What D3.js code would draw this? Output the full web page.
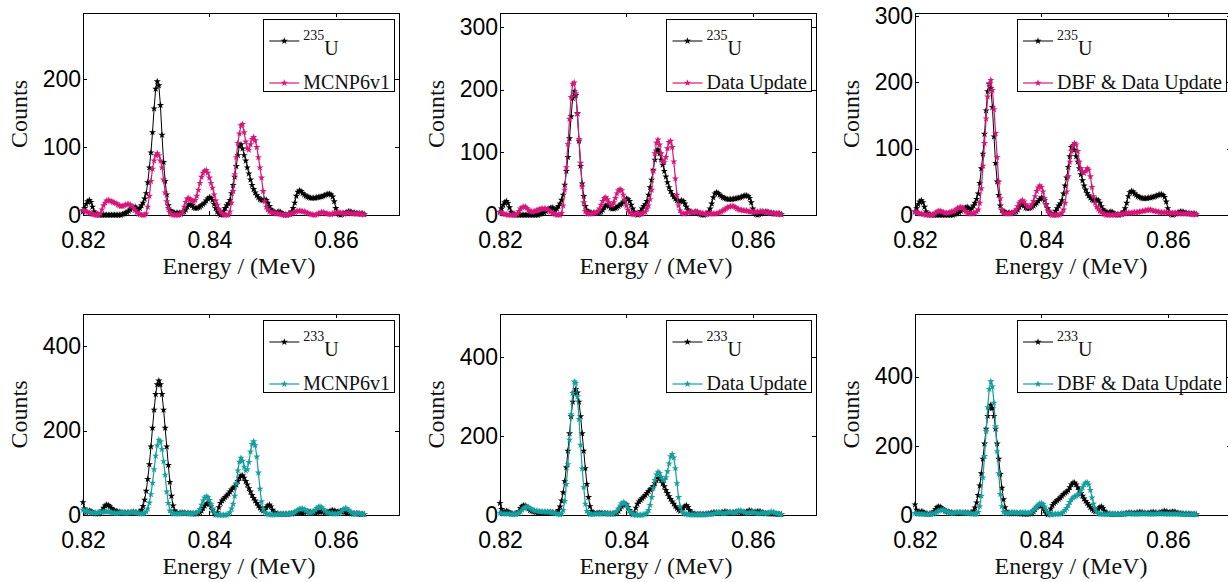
<!DOCTYPE html>
<html>
<head>
<meta charset="utf-8">
<script src="https://cdn.jsdelivr.net/npm/d3@7"></script>
<style>
  body { margin: 0; background: #fff; }
  svg { display: block; }
</style>
</head>
<body>
<svg id="chart"></svg>
<script>
// energy grid of every spectrum: starts at 0.82 MeV, one channel = 0.25 keV
const energyStart = 0.82;
const energyStep = 0.00025;

// 235U measured spectrum (counts), 179 channels
const u235 = [
  5, 10, 16, 20, 22, 19, 12, 5, 2, 1, 0, 0, 0, 0, 0, 0, 0, 0, 0, 0,
  0, 0, 0, 0, 0, 1, 2, 3, 4, 6, 8, 10, 11, 12, 10, 8, 10, 14, 18, 24,
  32, 48, 70, 92, 122, 157, 186, 197, 191, 162, 118, 78, 50, 30, 14, 7, 5, 4, 3, 3,
  3, 3, 3, 4, 5, 8, 12, 15, 16, 14, 11, 10, 10, 11, 12, 14, 16, 18, 21, 24,
  26, 25, 22, 16, 10, 5, 2, 0, 1, 6, 10, 14, 17, 22, 32, 44, 56, 72, 88, 102,
  104, 98, 88, 80, 70, 61, 52, 44, 38, 33, 29, 26, 23, 22, 22, 23, 22, 18, 13, 8,
  6, 4, 3, 4, 5, 4, 2, 1, 0, 0, 1, 2, 5, 10, 18, 28, 34, 36, 35, 32,
  30, 28, 27, 26, 25, 25, 25, 25, 26, 26, 27, 27, 28, 29, 30, 31, 31, 30, 27, 20,
  10, 4, 1, 0, 1, 2, 3, 4, 5, 5, 4, 3, 3, 2, 2, 2, 2, 2, 1
];

// 235U simulated with MCNP6v1
const u235Mcnp = [
  7, 6, 5, 4, 3, 2, 1, 1, 0, 0, 0, 2, 8, 14, 18, 21, 22, 21, 20, 19,
  18, 17, 15, 14, 13, 13, 14, 15, 16, 16, 15, 13, 10, 7, 4, 2, 1, 0, 0, 0,
  2, 12, 28, 50, 68, 80, 88, 91, 88, 80, 70, 52, 33, 20, 10, 4, 1, 0, 0, 0,
  0, 0, 1, 5, 12, 19, 24, 25, 23, 21, 20, 22, 28, 37, 47, 56, 62, 65, 66, 62,
  55, 47, 40, 30, 21, 15, 9, 5, 2, 0, 0, 0, 0, 5, 18, 35, 60, 85, 106, 120,
  132, 134, 122, 108, 98, 96, 104, 112, 115, 110, 100, 85, 70, 55, 35, 20, 12, 8, 5, 4,
  3, 3, 2, 2, 2, 1, 1, 0, 0, 0, 1, 1, 2, 3, 4, 5, 6, 6, 6, 5,
  5, 4, 3, 2, 1, 1, 0, 0, 1, 2, 3, 4, 4, 3, 2, 2, 1, 1, 2, 2,
  3, 4, 4, 3, 3, 2, 2, 3, 3, 3, 2, 2, 2, 2, 2, 2, 1, 1, 1
];

// 235U simulated with the data update
const u235Update = [
  4, 3, 2, 1, 1, 0, 0, 0, 0, 0, 0, 2, 6, 10, 12, 13, 13, 11, 8, 6,
  5, 5, 6, 7, 8, 9, 10, 10, 10, 10, 9, 7, 5, 3, 2, 1, 0, 0, 0, 3,
  15, 40, 76, 113, 153, 188, 209, 211, 194, 161, 121, 83, 45, 20, 6, 2, 2, 2, 2, 3,
  3, 4, 6, 10, 16, 22, 27, 28, 25, 20, 16, 16, 20, 27, 34, 39, 41, 39, 32, 24,
  15, 8, 4, 2, 1, 1, 2, 3, 2, 1, 2, 4, 5, 10, 15, 25, 40, 70, 98, 115,
  120, 112, 98, 86, 84, 92, 106, 116, 118, 108, 85, 58, 32, 15, 7, 3, 2, 2, 3, 4,
  5, 5, 4, 4, 5, 5, 4, 3, 3, 2, 2, 2, 2, 2, 2, 2, 2, 2, 3, 4,
  5, 7, 8, 10, 12, 13, 14, 14, 14, 12, 10, 9, 8, 8, 7, 7, 7, 6, 5, 5,
  5, 5, 5, 5, 5, 6, 6, 5, 4, 4, 4, 3, 3, 3, 2, 2, 2, 1, 1
];

// 235U simulated with DBF & data update
const u235Dbf = [
  5, 4, 3, 2, 2, 1, 1, 0, 0, 0, 0, 0, 1, 3, 5, 6, 6, 5, 4, 3,
  3, 3, 4, 5, 5, 6, 8, 10, 11, 12, 11, 8, 5, 3, 2, 2, 2, 2, 3, 5,
  8, 18, 40, 74, 108, 145, 178, 198, 203, 188, 159, 123, 87, 50, 25, 8, 3, 2, 2, 2,
  2, 2, 3, 5, 8, 13, 18, 21, 22, 20, 16, 13, 12, 13, 16, 21, 28, 36, 41, 44,
  42, 35, 25, 15, 7, 3, 1, 0, 0, 0, 0, 0, 1, 3, 8, 18, 35, 58, 80, 96,
  104, 108, 106, 96, 80, 70, 65, 63, 66, 70, 68, 58, 42, 28, 18, 12, 9, 6, 4, 2,
  1, 0, 0, 0, 0, 0, 0, 1, 1, 1, 1, 1, 2, 2, 3, 3, 3, 3, 4, 4,
  4, 4, 5, 5, 6, 6, 7, 7, 8, 8, 7, 6, 6, 5, 5, 4, 4, 4, 4, 4,
  3, 3, 3, 3, 3, 3, 3, 2, 2, 2, 2, 2, 2, 2, 2, 1, 1, 1, 1
];

// 233U measured spectrum
const u233 = [
  30, 15, 6, 8, 10, 9, 6, 4, 3, 3, 3, 5, 10, 17, 22, 24, 23, 20, 16, 12,
  10, 9, 8, 7, 6, 5, 5, 5, 5, 5, 5, 6, 7, 6, 5, 5, 7, 12, 21, 36,
  57, 85, 120, 162, 206, 249, 286, 309, 318, 309, 286, 249, 206, 162, 118, 78, 45, 22, 10, 6,
  4, 4, 5, 5, 5, 4, 4, 4, 4, 3, 3, 3, 3, 4, 6, 10, 16, 22, 26, 28,
  26, 20, 12, 5, 1, 6, 18, 28, 34, 38, 42, 46, 50, 55, 60, 64, 67, 72, 80, 88,
  93, 93, 88, 80, 72, 63, 55, 47, 40, 34, 28, 22, 17, 13, 10, 12, 18, 22, 24, 20,
  12, 6, 4, 3, 2, 2, 2, 2, 2, 2, 2, 3, 3, 4, 5, 6, 6, 6, 5, 5,
  6, 7, 8, 8, 7, 6, 5, 5, 6, 7, 8, 8, 7, 6, 6, 7, 8, 10, 11, 10,
  8, 7, 8, 9, 9, 8, 6, 5, 4, 4, 3, 3, 3, 3, 3, 2, 2, 2, 2
];

// 233U simulated with MCNP6v1
const u233Mcnp = [
  12, 10, 9, 8, 7, 6, 5, 5, 5, 5, 6, 6, 7, 7, 8, 8, 8, 7, 6, 5,
  5, 4, 4, 5, 6, 6, 5, 4, 4, 5, 6, 7, 7, 6, 5, 4, 3, 3, 3, 4,
  8, 15, 29, 49, 76, 108, 140, 165, 178, 174, 156, 127, 95, 55, 28, 10, 5, 3, 3, 3,
  3, 3, 4, 4, 4, 4, 4, 3, 3, 3, 4, 4, 5, 8, 14, 24, 34, 41, 44, 42,
  35, 25, 15, 7, 2, 0, 0, 0, 0, 0, 0, 0, 2, 6, 15, 26, 45, 75, 105, 126,
  135, 128, 114, 105, 108, 125, 150, 168, 174, 165, 138, 100, 62, 32, 14, 6, 3, 2, 1, 1,
  1, 1, 1, 2, 2, 2, 2, 2, 2, 2, 3, 3, 3, 4, 6, 9, 12, 14, 15, 15,
  13, 10, 8, 6, 5, 6, 8, 12, 16, 19, 20, 18, 14, 10, 7, 5, 4, 4, 4, 3,
  3, 3, 4, 6, 10, 14, 16, 15, 12, 8, 5, 3, 3, 3, 4, 4, 3, 2, 2
];

// 233U simulated with the data update
const u233Update = [
  5, 4, 3, 3, 3, 3, 3, 2, 2, 2, 2, 3, 5, 9, 13, 17, 20, 21, 20, 17,
  14, 12, 11, 10, 10, 9, 9, 8, 8, 8, 8, 7, 7, 6, 5, 4, 3, 2, 1, 3,
  12, 35, 78, 128, 190, 254, 308, 337, 334, 299, 242, 177, 117, 70, 28, 10, 4, 2, 2, 2,
  3, 3, 3, 3, 3, 4, 4, 4, 3, 3, 3, 3, 4, 6, 10, 16, 23, 29, 32, 30,
  25, 18, 10, 5, 2, 1, 0, 0, 0, 0, 0, 1, 2, 5, 12, 25, 45, 68, 88, 102,
  109, 106, 96, 89, 88, 95, 110, 130, 148, 154, 145, 118, 80, 45, 22, 10, 5, 3, 2, 1,
  1, 1, 1, 1, 1, 1, 1, 1, 1, 1, 1, 2, 2, 2, 2, 3, 4, 5, 6, 6,
  5, 4, 4, 5, 6, 7, 7, 6, 5, 6, 8, 10, 11, 10, 8, 6, 5, 5, 6, 7,
  7, 6, 5, 4, 4, 5, 6, 5, 4, 4, 5, 7, 8, 7, 5, 4, 3, 2, 2
];

// 233U simulated with DBF & data update
const u233Dbf = [
  5, 4, 3, 3, 3, 3, 2, 2, 2, 2, 2, 3, 4, 6, 9, 12, 14, 15, 15, 13,
  10, 8, 6, 5, 5, 6, 7, 8, 8, 8, 7, 6, 6, 5, 5, 5, 4, 3, 2, 3,
  8, 25, 55, 108, 170, 242, 311, 364, 386, 371, 324, 256, 184, 120, 60, 25, 9, 5, 5, 6,
  6, 7, 7, 7, 6, 6, 6, 7, 7, 7, 7, 6, 6, 7, 9, 13, 18, 24, 29, 33,
  34, 31, 24, 15, 7, 3, 1, 1, 2, 3, 3, 3, 3, 5, 9, 14, 20, 28, 37, 45,
  50, 53, 55, 58, 62, 70, 80, 88, 93, 94, 88, 72, 50, 32, 18, 9, 5, 3, 2, 2,
  2, 2, 2, 3, 3, 3, 3, 2, 2, 2, 2, 3, 3, 3, 4, 4, 4, 4, 3, 3,
  3, 3, 3, 4, 4, 4, 4, 3, 3, 3, 3, 3, 3, 4, 4, 4, 4, 4, 3, 3,
  3, 3, 3, 3, 3, 3, 3, 3, 2, 2, 2, 2, 2, 2, 2, 2, 2, 2, 1
];

const xTicks = [0.82, 0.84, 0.86];
const yTicks235 = [0, 100, 200, 300];
const yTicks233 = [0, 200, 400];

const W = 1228, H = 582;
const magenta = "#d4177a", teal = "#159e9e";
const sans = "'Liberation Sans', Arial, Helvetica, sans-serif";
const serif = "'Liberation Serif', 'Times New Roman', serif";

// one entry per subplot
const panels = [
  { ref: u235, iso: "235", sim: u235Mcnp, name: "MCNP6v1", color: magenta, yMax: 298, col: 0, row: 0 },
  { ref: u235, iso: "235", sim: u235Update, name: "Data Update", color: magenta, yMax: 322, col: 1, row: 0 },
  { ref: u235, iso: "235", sim: u235Dbf, name: "DBF & Data Update", color: magenta, yMax: 304, col: 2, row: 0 },
  { ref: u233, iso: "233", sim: u233Mcnp, name: "MCNP6v1", color: teal, yMax: 476, col: 0, row: 1 },
  { ref: u233, iso: "233", sim: u233Update, name: "Data Update", color: teal, yMax: 508, col: 1, row: 1 },
  { ref: u233, iso: "233", sim: u233Dbf, name: "DBF & Data Update", color: teal, yMax: 581, col: 2, row: 1 }
];

const colLeft = [83, 500, 915];
const plotW = 316;
const rowTop = [13, 314];
const rowBottom = [215, 515];

const svg = d3.select("#chart").attr("width", W).attr("height", H);

const star = d3.symbol().type(d3.symbolStar).size(16);

panels.forEach(p => {
  const left = colLeft[p.col], right = left + plotW;
  const top = rowTop[p.row], bottom = rowBottom[p.row];
  const yTicks = (p.row === 0 ? yTicks235 : yTicks233).filter(v => v <= p.yMax);

  const x = d3.scaleLinear().domain([0.82, 0.87]).range([left, right]);
  const y = d3.scaleLinear().domain([0, p.yMax]).range([bottom, top]);

  const g = svg.append("g");

  // axes with inward ticks
  const styleAxis = a => {
    a.select(".domain").remove();
    a.attr("font-family", sans).attr("font-size", 23);
    a.selectAll("line").attr("stroke", "#000").attr("shape-rendering", "crispEdges");
    a.selectAll("text").attr("fill", "#000");
  };
  g.append("g").attr("transform", `translate(0,${bottom})`)
    .call(d3.axisBottom(x).tickValues(xTicks).tickFormat(d3.format(".2f"))
      .tickSizeInner(-4).tickSizeOuter(0).tickPadding(17))
    .call(styleAxis);
  g.append("g").attr("transform", `translate(0,${top})`)
    .call(d3.axisTop(x).tickValues(xTicks).tickFormat("").tickSizeInner(-4).tickSizeOuter(0))
    .call(styleAxis);
  g.append("g").attr("transform", `translate(${left},0)`)
    .call(d3.axisLeft(y).tickValues(yTicks).tickSizeInner(-4).tickSizeOuter(0).tickPadding(2))
    .call(styleAxis);
  g.append("g").attr("transform", `translate(${right},0)`)
    .call(d3.axisRight(y).tickValues(yTicks).tickFormat("").tickSizeInner(-4).tickSizeOuter(0))
    .call(styleAxis);

  g.append("rect")
    .attr("x", left).attr("y", top)
    .attr("width", plotW).attr("height", bottom - top)
    .attr("fill", "none").attr("stroke", "#000").attr("stroke-width", 1)
    .attr("shape-rendering", "crispEdges");

  // axis labels
  g.append("text")
    .attr("transform", `translate(${left - 56},${(top + bottom) / 2}) rotate(-90)`)
    .attr("text-anchor", "middle")
    .attr("font-family", serif).attr("font-size", 24).attr("fill", "#111")
    .text("Counts");
  g.append("text")
    .attr("x", left + plotW / 2 - 2).attr("y", bottom + 59)
    .attr("text-anchor", "middle")
    .attr("font-family", serif).attr("font-size", 24).attr("fill", "#111")
    .text("Energy / (MeV)");

  // spectra: measured first, simulated on top
  const energyAt = i => energyStart + i * energyStep;
  const line = d3.line().x((d, i) => x(energyAt(i))).y(d => y(d));

  [[p.ref, "#000", 1], [p.sim, p.color, 1.2]].forEach(([vals, col, sw]) => {
    g.append("path").datum(vals)
      .attr("fill", "none").attr("stroke", col).attr("stroke-width", sw)
      .attr("d", line);
    g.append("g").selectAll("path")
      .data(vals)
      .join("path")
      .attr("d", star)
      .attr("transform", (d, i) => `translate(${x(energyAt(i))},${y(d)})`)
      .attr("fill", col);
  });

  // legend
  const lg = g.append("g");
  const simText = lg.append("text")
    .attr("font-family", serif).attr("font-size", 20).attr("fill", "#111")
    .text(p.name);
  const tw = simText.node().getComputedTextLength();
  const boxW = 44 + tw, boxH = 72;
  const bx = right - 5 - boxW, by = top + 6;

  lg.insert("rect", ":first-child")
    .attr("x", bx).attr("y", by).attr("width", boxW).attr("height", boxH)
    .attr("fill", "#fff").attr("stroke", "#000").attr("stroke-width", 1)
    .attr("shape-rendering", "crispEdges");

  simText.attr("x", bx + 40).attr("y", by + 70);

  const isoText = lg.append("text")
    .attr("x", bx + 40).attr("y", by + 36)
    .attr("font-family", serif).attr("fill", "#111");
  isoText.append("tspan").attr("font-size", 14).attr("dy", -15).text(p.iso);
  isoText.append("tspan").attr("font-size", 20).attr("dy", 15).text("U");

  [[by + 22, "#000", 1], [by + 64, p.color, 1.2]].forEach(([ly, col, sw]) => {
    lg.append("line")
      .attr("x1", bx + 6).attr("x2", bx + 36).attr("y1", ly).attr("y2", ly)
      .attr("stroke", col).attr("stroke-width", sw);
    lg.append("path").attr("d", star)
      .attr("transform", `translate(${bx + 21},${ly})`).attr("fill", col);
  });
});
</script>
</body>
</html>
